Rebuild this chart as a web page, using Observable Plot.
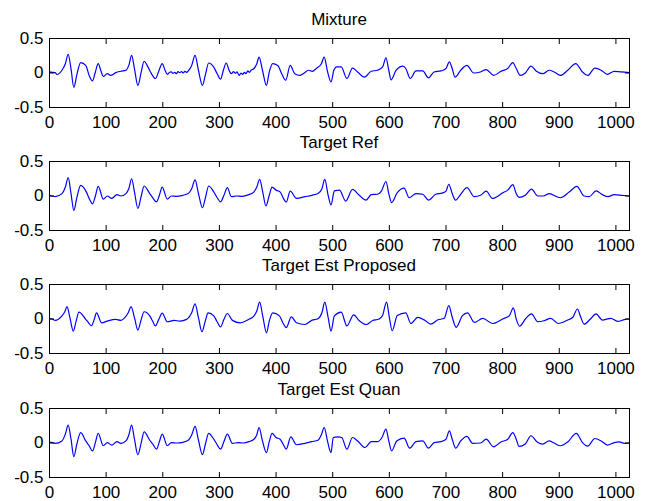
<!DOCTYPE html>
<html><head><meta charset="utf-8">
<script src="https://cdn.jsdelivr.net/npm/d3@7"></script>
<script src="https://cdn.jsdelivr.net/npm/@observablehq/plot@0.6"></script>
<style>
html,body{margin:0;padding:0;background:#fff;}
#chart{position:relative;width:646px;height:501px;overflow:hidden;background:#fff;}
.panel{position:absolute;left:0;}
</style></head><body><div id="chart"></div>
<script>
const titles = ["Mixture", "Target Ref", "Target Est Proposed", "Target Est Quan"];
const xTicks = [0,100,200,300,400,500,600,700,800,900,1000];
const yTicks = [-0.5,0,0.5];

const mixtureX = [0,5,10,13,22,28,33,38,43,48,55,64,70,76,81,86,91,95,102,108,117,126,135,140,145,150,156,162,167,174,180,187,193,199,204,208,212,215,218,221,224,227,230,233,236,239,242,245,251,257,263,270,275,281,290,296,302,307,312,317,321,325,328,331,335,338,341,344,347,350,353,356,361,366,370,376,383,388,394,403,410,417,425,433,442,450,457,464,471,480,485,491,497,502,507,515,525,535,544,556,568,579,588,594,599,603,612,624,629,637,647,659,669,679,691,700,706,711,716,726,737,749,761,771,784,797,809,818,824,831,840,850,859,871,882,891,902,915,929,941,950,963,974,985,997,1009,1024];
const mixtureY = [0.015,0.01,0.005,-0.02,0.04,0.135,0.27,0.06,-0.21,-0.035,0.15,0.11,-0.035,-0.115,0.015,0.135,0.025,-0.05,-0.01,-0.035,0.005,0.025,0.04,0.11,0.255,0.065,-0.18,0.015,0.17,0.085,-0.01,-0.08,0.03,0.135,0.04,-0.02,0.01,0.015,-0.005,0.01,-0.01,0.02,0.005,0.02,0.0,0.025,0.01,0.03,0.11,0.255,0.04,-0.18,-0.035,0.145,0.085,-0.01,-0.09,0.04,0.145,0.04,-0.01,0.02,-0.005,0.015,-0.035,0.0,-0.02,0.01,-0.01,0.03,0.01,0.04,0.065,0.135,0.23,0.04,-0.18,0.015,0.135,0.11,-0.01,-0.105,0.11,-0.01,-0.035,0.0,0.04,0.025,0.065,0.135,0.23,0.015,-0.13,0.04,0.09,0.09,-0.08,0.07,0.015,-0.06,0.025,0.04,0.085,0.22,0.04,-0.1,0.04,0.1,0.065,-0.08,0.03,0.03,-0.07,0.015,0.03,0.065,0.16,0.065,-0.06,0.04,0.11,0.0,0.015,0.05,-0.035,0.025,0.065,0.15,0.065,-0.035,0.0,0.1,0.03,-0.01,0.04,0.015,-0.035,0.04,0.135,0.015,-0.035,0.07,0.04,-0.02,0.025,0.015,0.005];

const refX = [0,5,10,22,28,33,38,43,48,55,65,70,76,81,86,95,102,110,119,126,135,140,145,150,156,162,167,177,183,189,194,199,208,215,225,235,245,251,257,263,270,275,281,290,296,302,308,314,321,330,340,352,361,366,371,377,382,388,393,400,407,413,418,425,436,451,463,474,481,486,492,497,503,512,523,535,547,559,568,579,586,594,599,604,614,626,635,647,659,669,682,694,700,705,711,717,726,737,750,761,771,782,800,809,818,824,829,840,851,862,872,882,902,918,931,944,953,965,976,986,997,1011,1024];
const refY = [0.01,0,-0.01,0.035,0.13,0.265,0.035,-0.21,-0.035,0.155,0.06,-0.035,-0.115,0,0.14,-0.045,0,-0.035,0.02,0,0.035,0.105,0.25,0.06,-0.18,0,0.145,0.035,-0.035,-0.085,0.01,0.13,-0.045,0,-0.005,0.01,0.035,0.105,0.235,0.035,-0.17,-0.035,0.145,0.06,-0.025,-0.085,0.01,0.12,-0.01,0,-0.005,0.02,0.06,0.13,0.24,0.035,-0.145,0.01,0.13,0.085,0.06,-0.035,-0.09,0.07,-0.035,-0.01,0.01,0.035,0.105,0.24,0.01,-0.13,0.075,0.085,-0.075,0.095,0.01,-0.06,0.02,0.025,0.07,0.21,0.035,-0.095,0.05,0.115,-0.025,0.035,0.025,-0.06,0.025,0.045,0.07,0.17,0.035,-0.06,0.025,0.12,-0.01,0.01,0.07,-0.035,0.045,0.085,0.165,0.035,-0.02,0.01,0.1,0,0,0.035,-0.025,0.06,0.14,0,-0.01,0.075,0.02,-0.01,0.02,0.01,0];

const propX = [0,5,10,22,27,31,36,42,47,52,64,69,74,79,83,92,102,117,126,133,139,144,150,156,162,167,177,182,187,193,199,208,220,230,242,251,257,263,269,275,280,290,296,302,308,314,323,337,352,361,366,371,377,383,388,394,406,412,418,427,436,451,463,474,481,486,492,497,503,515,525,537,547,559,570,582,588,595,600,605,614,629,638,650,662,673,685,697,705,711,718,729,738,750,765,782,800,812,819,824,830,841,851,862,873,885,898,915,924,932,938,944,955,965,976,991,1003,1015,1024];
const propY = [0.005,0,-0.02,0.045,0.105,0.18,0.02,-0.175,-0.03,0.1,-0.005,-0.055,-0.1,-0.005,0.09,-0.055,-0.03,-0.005,-0.02,0.02,0.09,0.18,0.02,-0.16,-0.005,0.105,0.045,-0.03,-0.1,-0.005,0.085,-0.04,-0.02,-0.03,-0.005,0.09,0.22,0.02,-0.185,-0.03,0.09,0.045,-0.04,-0.115,-0.005,0.08,-0.02,-0.055,-0.005,0.045,0.115,0.245,0.02,-0.2,-0.03,0.09,0.045,-0.055,-0.125,0.03,-0.055,-0.08,-0.02,0.005,0.09,0.245,0.02,-0.175,0.045,0.1,-0.1,0.06,-0.025,-0.08,-0.025,0,0.05,0.245,0.025,-0.17,0.05,0.09,-0.065,0.025,-0.015,-0.075,-0.015,0.01,0.195,0.025,-0.12,0.05,0.09,-0.05,0.01,-0.065,0,0.05,0.16,0,-0.105,0.01,0.075,-0.04,-0.025,0.01,-0.065,-0.015,0.025,0.145,0.025,-0.075,0,0.075,-0.015,0.01,-0.035,-0.01,0];

const quanX = [0,5,10,22,28,33,38,43,48,55,64,70,76,81,86,95,102,110,119,126,135,140,145,150,156,162,167,177,183,189,194,199,208,215,225,235,245,251,257,263,270,275,281,290,296,302,308,314,323,333,343,352,361,366,370,376,383,388,393,400,407,413,418,426,436,451,463,474,480,485,491,497,501,509,516,525,535,544,557,568,579,587,594,599,604,613,626,636,647,659,669,679,691,700,706,711,717,726,737,747,761,771,784,797,809,818,824,829,840,850,861,871,882,891,902,915,930,941,950,963,974,985,997,1006,1015,1024];
const quanY = [0.015,0.005,-0.005,0.03,0.13,0.26,0.055,-0.2,-0.025,0.15,0.03,-0.04,-0.115,0.005,0.14,-0.04,0.005,-0.03,0.02,-0.005,0.03,0.115,0.26,0.055,-0.17,0.005,0.16,0.04,-0.025,-0.09,0.02,0.13,-0.04,0.005,0,0.01,0.04,0.115,0.24,0.04,-0.17,-0.025,0.14,0.055,-0.025,-0.09,0.02,0.13,-0.005,0.005,0,0.02,0.055,0.12,0.225,0.03,-0.14,0.02,0.14,0.08,0.055,-0.025,-0.09,0.09,-0.025,-0.005,0.02,0.04,0.12,0.225,0.02,-0.14,0.08,0.09,0.08,-0.09,0.08,0.03,-0.065,0.02,0.02,0.08,0.2,0.03,-0.115,0.03,0.07,-0.075,0.02,0.03,-0.075,0.005,0.02,0.055,0.175,0.055,-0.075,0.03,0.095,-0.005,0,0.055,-0.055,0.015,0.055,0.15,0.055,-0.05,-0.015,0.105,0.015,-0.015,0.03,0,-0.04,0.015,0.14,0.005,-0.045,0.065,0.03,-0.03,0.005,0.015,-0.005,0];

const seriesX = [mixtureX, refX, propX, quanX];
const seriesY = [mixtureY, refY, propY, quanY];

const chart = document.getElementById("chart");
const panelTops = [8, 131, 254, 378];
const font = "'Liberation Sans', Arial, Helvetica, sans-serif";
const mL = 49, mR = 17, mT = 30, mB = 24, W = 646, H = 123;

titles.forEach((title, i) => {
  const data = seriesX[i].map((x, j) => ({x, y: seriesY[i][j]}));
  const p = Plot.plot({
    width: W, height: H,
    marginLeft: mL, marginRight: mR, marginTop: mT, marginBottom: mB,
    style: {fontFamily: font, fontSize: "17px", background: "transparent", color: "black", overflow: "visible"},
    x: {domain: [0, 1024], label: null},
    y: {domain: [-0.5, 0.5], label: null},
    marks: [
      Plot.line(data, {x: "x", y: "y", stroke: "#0000ff", strokeWidth: 1.2, curve: "monotone-x"}),
      Plot.axisX(xTicks, {anchor: "bottom", tickSize: -5, tickPadding: 13, tickFormat: d => String(d), label: null, stroke: "black"}),
      Plot.axisX(xTicks, {anchor: "top", tickSize: -5, tickFormat: () => "", label: null, stroke: "black"}),
      Plot.axisY(yTicks, {anchor: "left", tickSize: -5, tickPadding: 11, tickFormat: d => String(d), label: null, stroke: "black"}),
      Plot.axisY(yTicks, {anchor: "right", tickSize: -5, tickFormat: () => "", label: null, stroke: "black"}),
      Plot.frame({stroke: "black", strokeWidth: 1})
    ]
  });
  d3.select(p).append("text")
    .attr("x", mL + (W - mL - mR) / 2)
    .attr("y", mT - 13)
    .attr("text-anchor", "middle")
    .attr("font-family", font)
    .attr("font-size", 17)
    .attr("font-weight", 400)
    .attr("fill", "black")
    .text(title);
  p.classList.add("panel");
  p.style.top = panelTops[i] + "px";
  chart.appendChild(p);
});
</script>
</body></html>
